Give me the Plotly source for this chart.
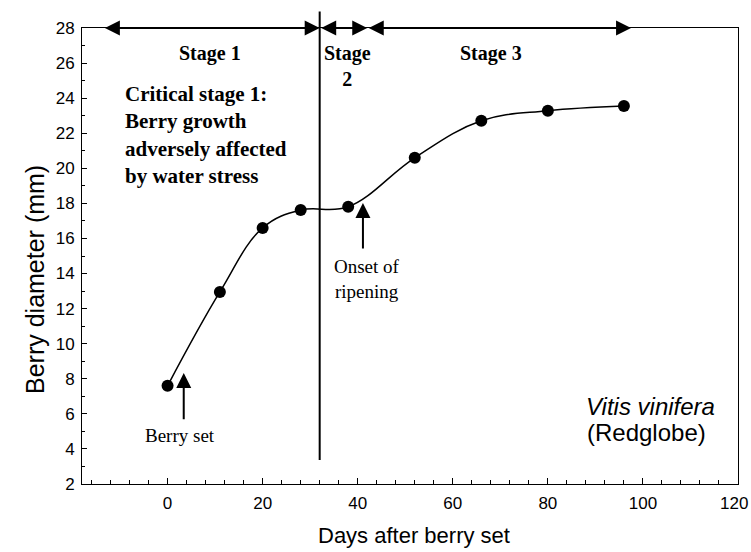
import plotly.graph_objects as go

# Data
days = [0, 11, 20, 28, 38, 52, 66, 80, 96]
diameter = [7.6, 12.95, 16.6, 17.62, 17.81, 20.6, 22.71, 23.28, 23.55]

x_ticks = [0, 20, 40, 60, 80, 100, 120]
y_ticks = [2, 4, 6, 8, 10, 12, 14, 16, 18, 20, 22, 24, 26, 28]

stage_bounds = [-13.5, 32, 42, 97.5]
stage_labels = ["Stage 1", "Stage<br>2", "Stage 3"]
stage_label_x = [9, 37.9, 68]
stage_label_y = [26.57, 25.85, 26.57]

critical_text = "Critical stage 1:<br>Berry growth<br>adversely affected<br>by water stress"

SERIF = "Liberation Serif, Times New Roman, serif"
SANS = "Liberation Sans, Arial, sans-serif"

W, H = 751, 552
L, T = 82, 28
R = W - 738
B = H - 484
PW, PH = W - L - R, H - T - B


def px_to_paper(px, py):
    return (px - L) / PW, (H - B - py) / PH


fig = go.Figure()
fig.add_trace(go.Scatter(
    x=days, y=diameter, mode="lines+markers",
    line=dict(color="black", width=1.5, shape="spline", smoothing=1.1),
    marker=dict(color="black", size=12),
    showlegend=False, hoverinfo="skip"))

ann = []
# stage double arrows along top
for a, b in zip(stage_bounds[:-1], stage_bounds[1:]):
    ann.append(dict(x=b, y=28, ax=a, ay=28, xref="x", yref="y", axref="x", ayref="y",
                    text="", showarrow=True, arrowhead=2, startarrowhead=2,
                    arrowside="end+start", arrowwidth=2, arrowsize=1.5, startarrowsize=1.5,
                    arrowcolor="black", standoff=0, startstandoff=0))
# vertical divider
ann.append(dict(x=32, y=3.37, ax=32, ay=29.03, xref="x", yref="y", axref="x", ayref="y",
                text="", showarrow=True, arrowhead=0, arrowwidth=2, arrowcolor="black",
                standoff=0, startstandoff=0))
# stage labels
for t, xx, yy in zip(stage_labels, stage_label_x, stage_label_y):
    ann.append(dict(x=xx, y=yy, xref="x", yref="y", text="<b>" + t + "</b>", showarrow=False,
                    font=dict(family=SERIF, size=20, color="black"), align="center"))
# critical text
ann.append(dict(x=-9.3, y=21.9, xref="x", yref="y", text="<b>" + critical_text + "</b>",
                showarrow=False, xanchor="left", align="left",
                font=dict(family=SERIF, size=21, color="black")))
# Berry set arrow and label
ann.append(dict(x=3.4, y=8.33, ax=3.4, ay=5.6, xref="x", yref="y", axref="x", ayref="y",
                text="", showarrow=True, arrowhead=2, arrowwidth=2, arrowsize=1.5,
                arrowcolor="black", standoff=0, startstandoff=0))
ann.append(dict(x=2.7, y=4.79, xref="x", yref="y", text="Berry set", showarrow=False,
                font=dict(family=SERIF, size=19, color="black")))
# Onset of ripening arrow and label
ann.append(dict(x=41.1, y=18.02, ax=41.1, ay=15.34, xref="x", yref="y", axref="x", ayref="y",
                text="", showarrow=True, arrowhead=2, arrowwidth=2, arrowsize=1.5,
                arrowcolor="black", standoff=0, startstandoff=0))
ann.append(dict(x=42, y=14.43, xref="x", yref="y", text="Onset of", showarrow=False,
                font=dict(family=SERIF, size=19, color="black")))
ann.append(dict(x=42, y=12.95, xref="x", yref="y", text="ripening", showarrow=False,
                font=dict(family=SERIF, size=19, color="black")))
# species label
ann.append(dict(x=101.5, y=6.4, xref="x", yref="y", text="<i>Vitis vinifera</i>", showarrow=False,
                font=dict(family=SANS, size=24, color="black")))
ann.append(dict(x=100.7, y=4.95, xref="x", yref="y", text="(Redglobe)", showarrow=False,
                font=dict(family=SANS, size=24, color="black")))
# axis titles
xt = px_to_paper(414, 535)
ann.append(dict(x=xt[0], y=xt[1], xref="paper", yref="paper", text="Days after berry set",
                xanchor="center", yanchor="middle",
                showarrow=False, font=dict(family=SANS, size=22, color="black")))
yt = px_to_paper(35, 280)
ann.append(dict(x=yt[0], y=yt[1], xref="paper", yref="paper", text="Berry diameter (mm)",
                xanchor="center", yanchor="middle",
                showarrow=False, textangle=-90, font=dict(family=SANS, size=25, color="black")))
# last x tick label sits at the very edge of the page: right-align it inside the page
lt = px_to_paper(750, 503)
ann.append(dict(x=lt[0], y=lt[1], xref="paper", yref="paper", text=str(x_ticks[-1]),
                xanchor="right", yanchor="middle", showarrow=False,
                font=dict(family=SANS, size=17, color="black")))

x_ticktext = [str(v) for v in x_ticks[:-1]] + [""]

fig.update_layout(
    width=W, height=H,
    margin=dict(l=L, r=R, t=T, b=B, autoexpand=False),
    paper_bgcolor="white", plot_bgcolor="white",
    annotations=ann,
    xaxis=dict(range=[-18, 120], tickvals=x_ticks, ticktext=x_ticktext,
               ticks="inside", ticklen=6, tickcolor="black",
               showline=True, linecolor="black", linewidth=1, mirror=True,
               showgrid=False, zeroline=False, automargin=False,
               ticklabeloverflow="allow", ticklabelstandoff=4,
               minor=dict(dtick=4, tick0=0, ticks="inside", ticklen=4, tickcolor="black"),
               tickfont=dict(family=SANS, size=17, color="black")),
    yaxis=dict(range=[2, 28], tickvals=y_ticks, ticks="inside", ticklen=5, tickcolor="black",
               showline=True, linecolor="black", linewidth=1, mirror=True,
               showgrid=False, zeroline=False, automargin=False,
               ticklabeloverflow="allow", ticklabelstandoff=3,
               minor=dict(dtick=1, tick0=0, ticks="inside", ticklen=3, tickcolor="black"),
               tickfont=dict(family=SANS, size=17, color="black")),
)

fig.write_html(
    "out.html",
    config={"displayModeBar": False},
    post_script="document.body.style.margin='0';document.body.style.padding='0';"
                "document.body.style.overflow='hidden';",
)
